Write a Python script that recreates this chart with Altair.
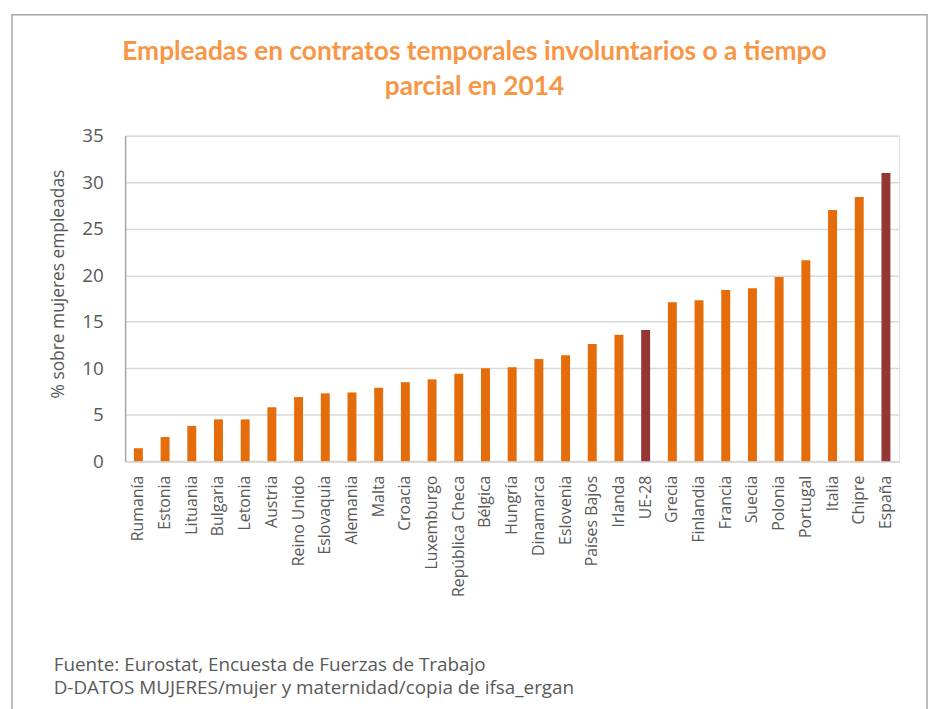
import altair as alt
import pandas as pd

paises = ["Rumanía", "Estonia", "Lituania", "Bulgaria", "Letonia", "Austria",
          "Reino Unido", "Eslovaquia", "Alemania", "Malta", "Croacia", "Luxemburgo",
          "República Checa", "Bélgica", "Hungría", "Dinamarca", "Eslovenia",
          "Países Bajos", "Irlanda", "UE-28", "Grecia", "Finlandia", "Francia",
          "Suecia", "Polonia", "Portugal", "Italia", "Chipre", "España"]
valores = [1.4, 2.6, 3.8, 4.5, 4.5, 5.8, 6.9, 7.3, 7.4, 7.9, 8.5, 8.8, 9.4, 10.0,
           10.1, 11.0, 11.4, 12.6, 13.6, 14.1, 17.1, 17.3, 18.4, 18.6, 19.8, 21.6,
           27.0, 28.4, 31.0]
destacados = ["UE-28", "España"]
y_ticks = [0, 5, 10, 15, 20, 25, 30, 35]

titulo = ["Empleadas en contratos temporales involuntarios o a tiempo",
          "parcial en 2014"]
fuente = ["Fuente: Eurostat, Encuesta de Fuerzas de Trabajo",
          "D-DATOS MUJERES/mujer y maternidad/copia de ifsa_ergan"]
y_titulo = "% sobre mujeres empleadas"

df = pd.DataFrame({"pais": paises, "valor": valores})

FONT = "Open Sans"
GREY = "#595959"

bars = alt.Chart(df).mark_bar().encode(
    x=alt.X("pais:N", sort=None,
            scale=alt.Scale(paddingInner=0.665, paddingOuter=0.33),
            axis=alt.Axis(title=None, labelAngle=-90, labelFontSize=16,
                          labelFont=FONT, labelColor=GREY, labelPadding=14,
                          ticks=False, domainColor="#d9d9d9", domainWidth=2,
                          labelOverlap=False)),
    y=alt.Y("valor:Q",
            scale=alt.Scale(domain=[0, 35], nice=False),
            axis=alt.Axis(values=y_ticks, title=y_titulo, titleFont=FONT,
                          titleFontSize=17.5, titleFontWeight="normal",
                          titleColor=GREY, titleX=-67, titleY=149,
                          titleAngle=270, titleAlign="center",
                          titleBaseline="middle",
                          labelFont=FONT, labelFontSize=19, labelColor=GREY,
                          labelPadding=22, ticks=False, domainColor="#a6a6a6",
                          domainWidth=1.5, gridColor="#d9d9d9", gridWidth=1.5)),
    color=alt.condition(alt.FieldOneOfPredicate(field="pais", oneOf=destacados),
                        alt.value("#943634"), alt.value("#e46c0a")),
)

t1 = alt.Chart(alt.Data(values=[{"t": titulo[0]}])).mark_text(
    font="Lato", fontWeight="bold", fontSize=26.5, color="#f79646",
    align="center", baseline="middle").encode(
    text="t:N", x=alt.value(352), y=alt.value(-84))
t2 = alt.Chart(alt.Data(values=[{"t": titulo[1]}])).mark_text(
    font="Lato", fontWeight="bold", fontSize=26.5, color="#f79646",
    align="center", baseline="middle").encode(
    text="t:N", x=alt.value(352), y=alt.value(-49))

f1 = alt.Chart(alt.Data(values=[{"t": fuente[0]}])).mark_text(
    font=FONT, fontSize=19, color=GREY, align="left", baseline="middle").encode(
    text="t:N", x=alt.value(-72), y=alt.value(533))
f2 = alt.Chart(alt.Data(values=[{"t": fuente[1]}])).mark_text(
    font=FONT, fontSize=19, color=GREY, align="left", baseline="middle").encode(
    text="t:N", x=alt.value(-72), y=alt.value(557))

borde = alt.Chart(alt.Data(values=[{}])).mark_rect(
    filled=False, stroke="#a6a6a6", strokeWidth=1.5).encode(
    x=alt.value(-114), x2=alt.value(808), y=alt.value(-122), y2=alt.value(700))

chart = alt.layer(borde, bars, t1, t2, f1, f2).properties(
    width=780, height=328,
    autosize=alt.AutoSizeParams(type="none"),
    padding={"left": 118, "top": 126, "right": 29, "bottom": 251},
).configure_view(stroke="#a6a6a6", strokeWidth=1.5).configure(background="white")

chart.save("out.html", embed_options={"renderer": "svg", "actions": False})
